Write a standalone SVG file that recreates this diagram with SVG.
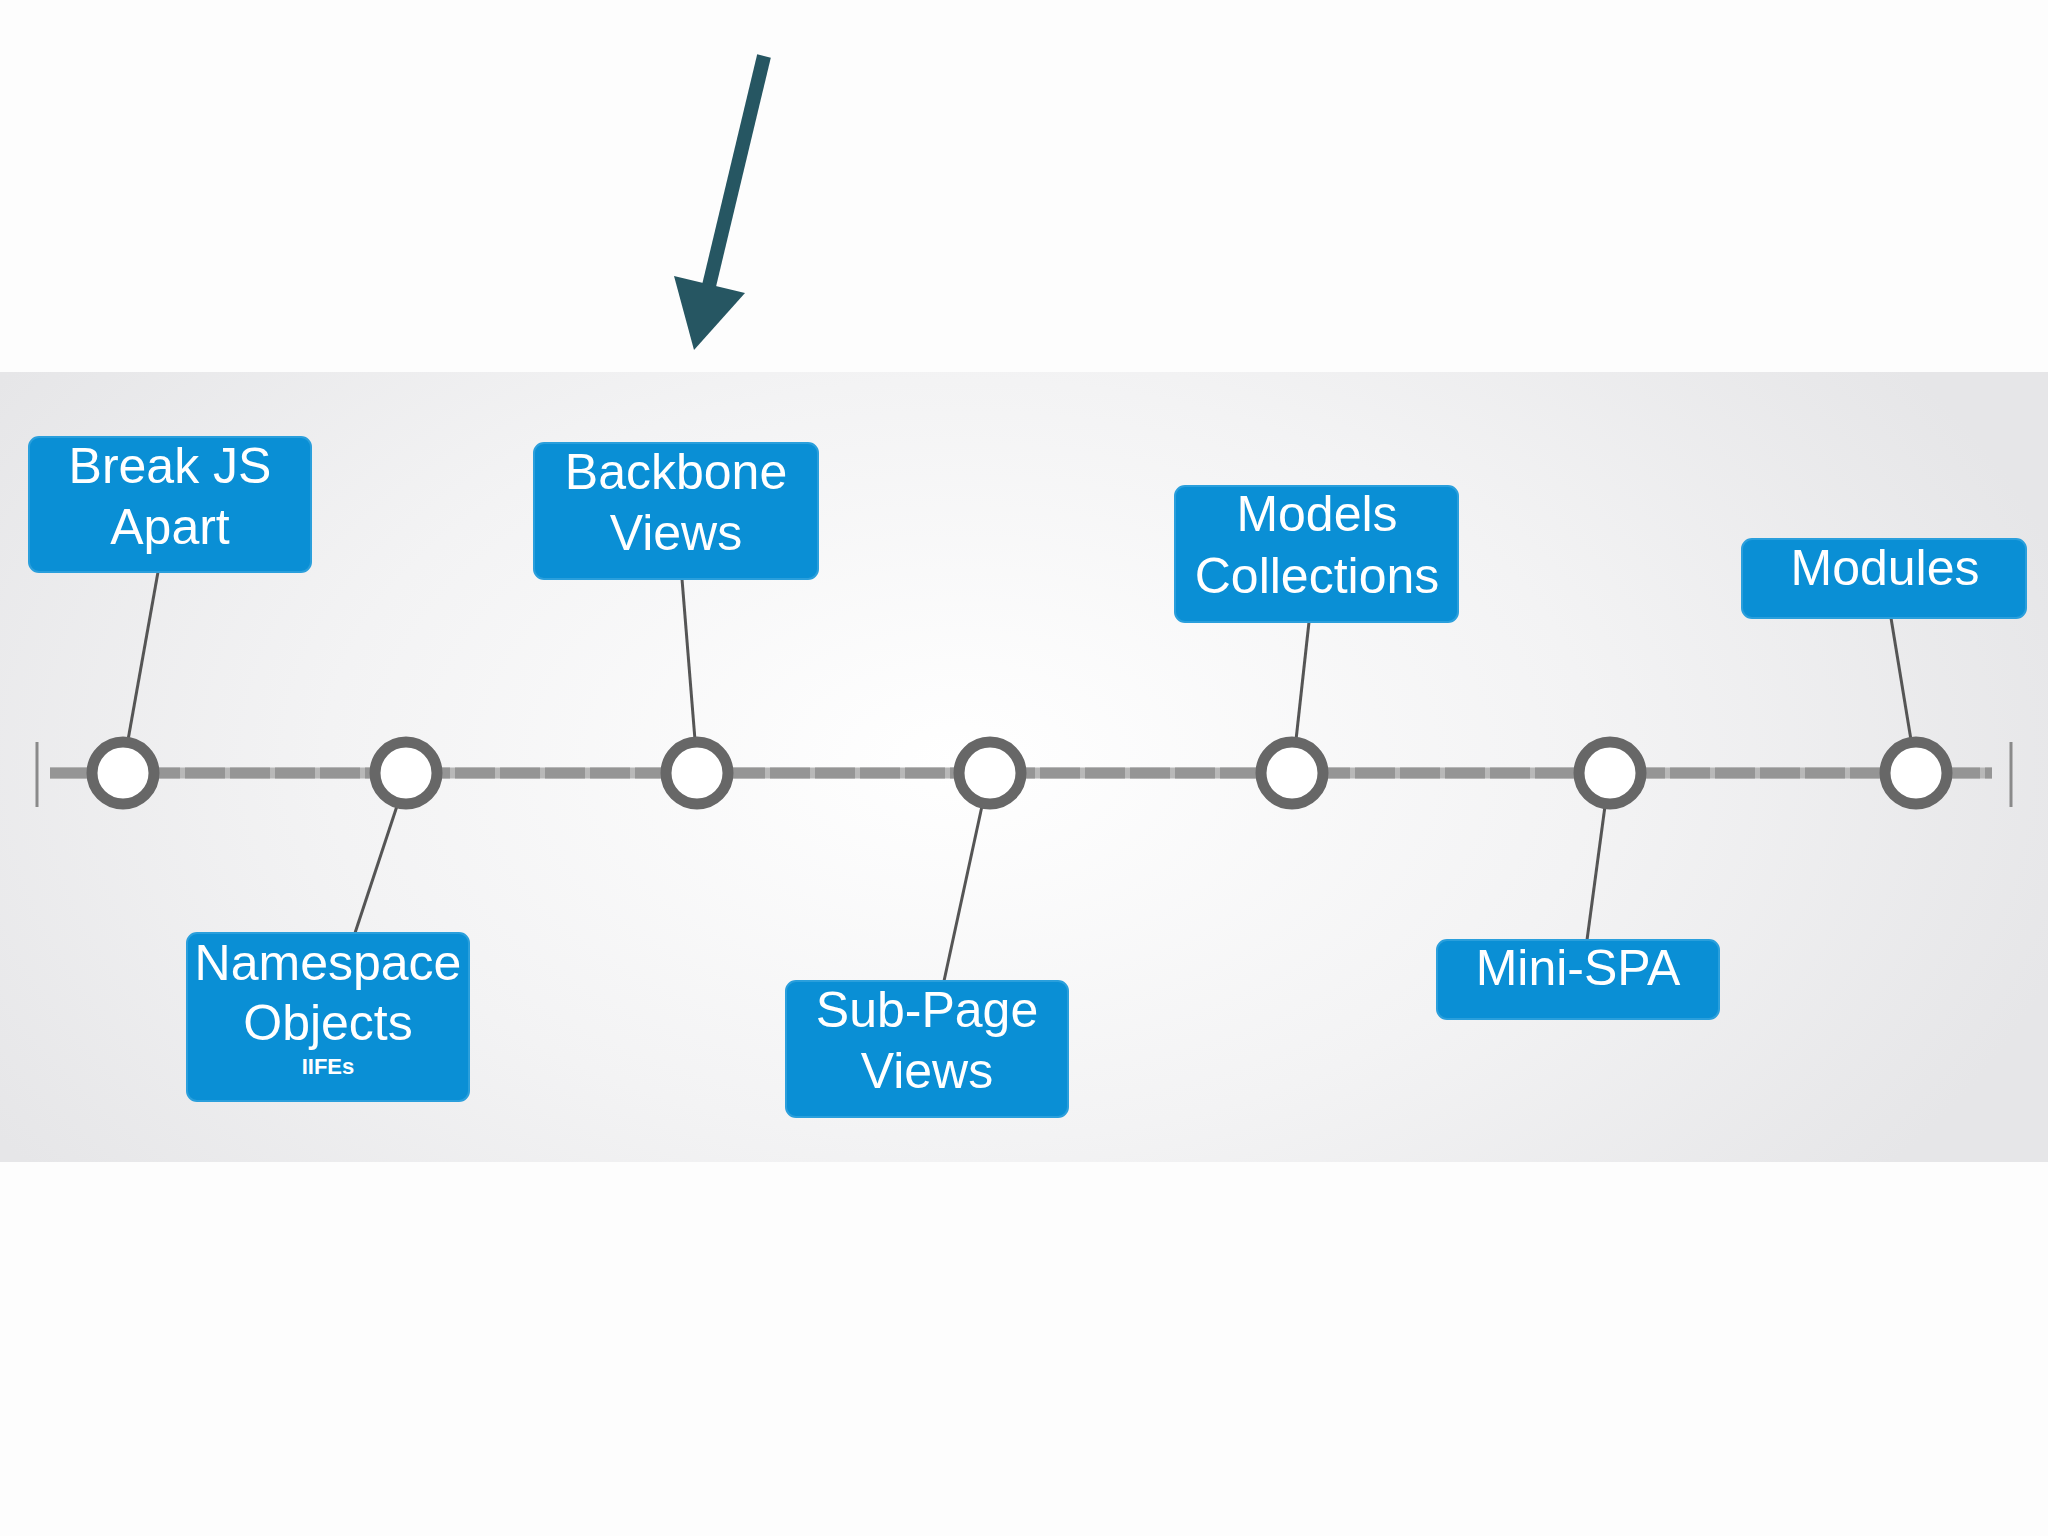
<svg xmlns="http://www.w3.org/2000/svg" width="2048" height="1536" viewBox="0 0 2048 1536">
  <defs>
    <radialGradient id="bandGrad" cx="960" cy="760" r="1150" gradientUnits="userSpaceOnUse" gradientTransform="translate(960 760) scale(1 0.6) translate(-960 -760)">
      <stop offset="0" stop-color="#ffffff"/>
      <stop offset="0.55" stop-color="#f3f3f4"/>
      <stop offset="1" stop-color="#e6e6e8"/>
    </radialGradient>
    <style>
      .box { fill: #0a8fd5; stroke: #2a9fdc; stroke-width: 2; }
      .lbl { font-family: "Liberation Sans", Arial, sans-serif; font-size: 50px; fill: #ffffff; text-anchor: middle; }
      .sub { font-family: "Liberation Sans", Arial, sans-serif; font-size: 22px; font-weight: bold; fill: #ffffff; text-anchor: middle; }
      .stem { stroke: #555555; stroke-width: 3; fill: none; }
      .dot { fill: #ffffff; stroke: #676767; stroke-width: 11; }
      .tick { stroke: #8a8a8a; stroke-width: 3; }
    </style>
  </defs>

  <rect x="0" y="0" width="2048" height="1536" fill="#fdfdfd"/>
  <rect x="0" y="372" width="2048" height="790" fill="url(#bandGrad)"/>

  <!-- pointer arrow -->
  <g id="pointer">
    <line x1="764" y1="56" x2="708" y2="290" stroke="#265662" stroke-width="14"/>
    <polygon points="674,276 745,293 694,350" fill="#265662"/>
  </g>

  <!-- timeline axis -->
  <g id="axis">
    <line x1="50" y1="773" x2="1992" y2="773" stroke="#b8b8b8" stroke-width="11"/>
    <line x1="50" y1="773" x2="1992" y2="773" stroke="#959595" stroke-width="11" stroke-dasharray="40 5"/>
    <line class="tick" x1="37" y1="742" x2="37" y2="807"/>
    <line class="tick" x1="2011" y1="742" x2="2011" y2="807"/>
  </g>

  <!-- connectors -->
  <g id="connectors">
    <line class="stem" x1="158" y1="572" x2="128" y2="740"/>
    <line class="stem" x1="397" y1="806" x2="355" y2="933"/>
    <line class="stem" x1="682" y1="579" x2="695" y2="740"/>
    <line class="stem" x1="982" y1="806" x2="944" y2="981"/>
    <line class="stem" x1="1309" y1="622" x2="1296" y2="740"/>
    <line class="stem" x1="1605" y1="806" x2="1587" y2="940"/>
    <line class="stem" x1="1891" y1="618" x2="1911" y2="740"/>
  </g>

  <!-- milestones -->
  <g id="milestones">
    <circle id="m1" class="dot" cx="123" cy="773" r="31"/>
    <circle id="m2" class="dot" cx="406" cy="773" r="31"/>
    <circle id="m3" class="dot" cx="697" cy="773" r="31"/>
    <circle id="m4" class="dot" cx="990" cy="773" r="31"/>
    <circle id="m5" class="dot" cx="1292" cy="773" r="31"/>
    <circle id="m6" class="dot" cx="1610" cy="773" r="31"/>
    <circle id="m7" class="dot" cx="1916" cy="773" r="31"/>
  </g>

  <g id="break-js-apart">
    <rect class="box" x="29" y="437" width="282" height="135" rx="10"/>
    <text class="lbl" x="170" y="483">Break JS</text>
    <text class="lbl" x="170" y="544">Apart</text>
  </g>

  <g id="namespace-objects">
    <rect class="box" x="187" y="933" width="282" height="168" rx="10"/>
    <text class="lbl" x="328" y="980">Namespace</text>
    <text class="lbl" x="328" y="1040">Objects</text>
    <text class="sub" x="328" y="1074">IIFEs</text>
  </g>

  <g id="backbone-views">
    <rect class="box" x="534" y="443" width="284" height="136" rx="10"/>
    <text class="lbl" x="676" y="489">Backbone</text>
    <text class="lbl" x="676" y="550">Views</text>
  </g>

  <g id="sub-page-views">
    <rect class="box" x="786" y="981" width="282" height="136" rx="10"/>
    <text class="lbl" x="927" y="1027">Sub-Page</text>
    <text class="lbl" x="927" y="1088">Views</text>
  </g>

  <g id="models-collections">
    <rect class="box" x="1175" y="486" width="283" height="136" rx="10"/>
    <text class="lbl" x="1317" y="531">Models</text>
    <text class="lbl" x="1317" y="593">Collections</text>
  </g>

  <g id="mini-spa">
    <rect class="box" x="1437" y="940" width="282" height="79" rx="10"/>
    <text class="lbl" x="1578" y="985">Mini-SPA</text>
  </g>

  <g id="modules">
    <rect class="box" x="1742" y="539" width="284" height="79" rx="10"/>
    <text class="lbl" x="1885" y="585">Modules</text>
  </g>
</svg>
